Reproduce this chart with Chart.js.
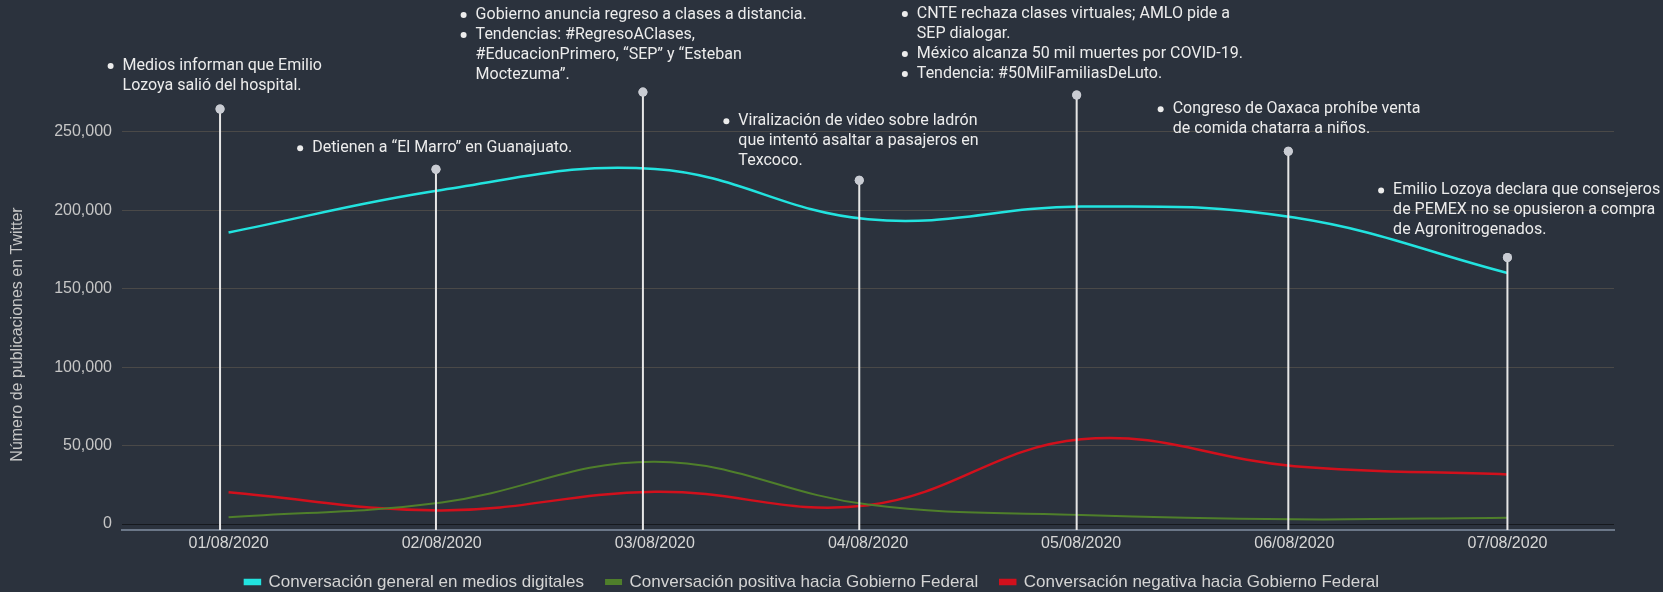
<!DOCTYPE html>
<html>
<head>
<meta charset="utf-8">
<script src="https://cdn.jsdelivr.net/npm/chart.js@4.4.0/dist/chart.umd.min.js"></script>
<style>
  html, body { margin: 0; padding: 0; background: #2b323d; }
  #wrap { width: 1663px; height: 592px; position: relative; }
</style>
</head>
<body>
<div id="wrap"><canvas id="chart"></canvas></div>
<script>
const days = ["01/08/2020", "02/08/2020", "03/08/2020", "04/08/2020", "05/08/2020", "06/08/2020", "07/08/2020"];
const general = [185800, 212900, 226300, 194200, 202300, 195300, 160000];
const positive = [4300, 13800, 39700, 12400, 5700, 3000, 4000];
const negative = [20200, 8700, 20600, 12000, 54000, 36900, 31600];
const yTicks = [0, 50000, 100000, 150000, 200000, 250000];

// events: position on the day axis (fractional index) and marker height
const eventPos = [-0.04, 0.973, 1.944, 2.959, 3.979, 4.972, 6.0];
const eventHeight = [264500, 226100, 275300, 219100, 273400, 237600, 169900];
const eventNotes = [
  [["Medios informan que Emilio", "Lozoya salió del hospital."]],
  [["Detienen a “El Marro” en Guanajuato."]],
  [["Gobierno anuncia regreso a clases a distancia."],
   ["Tendencias: #RegresoAClases,", "#EducacionPrimero, “SEP” y “Esteban", "Moctezuma”."]],
  [["Viralización de video sobre ladrón", "que intentó asaltar a pasajeros en", "Texcoco."]],
  [["CNTE rechaza clases virtuales; AMLO pide a", "SEP dialogar."],
   ["México alcanza 50 mil muertes por COVID-19."],
   ["Tendencia: #50MilFamiliasDeLuto."]],
  [["Congreso de Oaxaca prohíbe venta", "de comida chatarra a niños."]],
  [["Emilio Lozoya declara que consejeros", "de PEMEX no se opusieron a compra", "de Agronitrogenados."]]
];
// where each note block sits relative to its marker (center dx, last line dy)
const noteShift = [[-5, -23], [-1, -21], [-9, -17], [-8, -19], [-4, -21], [1, -22], [12, -27]];

const seriesNames = [
  "Conversación general en medios digitales",
  "Conversación positiva hacia Gobierno Federal",
  "Conversación negativa hacia Gobierno Federal"
];

const eventsPlugin = {
  id: 'events',
  afterLayout(chart) {
    // legend sits a little right of the canvas centre
    chart.legend.left += 5;
    chart.legend.right += 5;
  },
  afterDatasetsDraw(chart) {
    const ctx = chart.ctx;
    const meta = chart.getDatasetMeta(3);
    const bottom = chart.chartArea.bottom;
    ctx.save();
    ctx.strokeStyle = '#e6e6e6';
    ctx.lineWidth = 2;
    meta.data.forEach(p => {
      ctx.beginPath();
      ctx.moveTo(p.x, p.y);
      ctx.lineTo(p.x, bottom);
      ctx.stroke();
    });
    meta.data.forEach(p => p.draw(ctx));
    ctx.restore();
  },
  afterDraw(chart) {
    const ctx = chart.ctx;
    const meta = chart.getDatasetMeta(3);
    ctx.save();
    ctx.font = '16px Roboto';
    ctx.fillStyle = '#ececec';
    ctx.textBaseline = 'middle';
    ctx.textAlign = 'left';
    const lh = 20, indent = 14.5;
    meta.data.forEach((p, i) => {
      const bullets = eventNotes[i];
      let lines = [];
      bullets.forEach(b => b.forEach((t, k) => lines.push({ t, first: k === 0 })));
      const w = indent + Math.max(...lines.map(l => ctx.measureText(l.t).width));
      const left = p.x + noteShift[i][0] - w / 2;
      const lastY = p.y + noteShift[i][1];
      lines.forEach((l, k) => {
        const y = lastY - (lines.length - 1 - k) * lh;
        if (l.first) {
          ctx.beginPath();
          ctx.arc(left + 2.5, y, 3, 0, Math.PI * 2);
          ctx.fill();
        }
        ctx.fillText(l.t, left + indent, y);
      });
    });
    // y axis title
    ctx.translate(17.5, 334.5);
    ctx.rotate(-Math.PI / 2);
    ctx.font = '16px "Liberation Sans"';
    ctx.fillStyle = '#c6c6c6';
    ctx.textAlign = 'center';
    ctx.fillText('Número de publicaciones en Twitter', 0, 0);
    ctx.restore();
  }
};

new Chart(document.getElementById('chart'), {
  type: 'line',
  data: {
    labels: days,
    datasets: [
      { label: seriesNames[0], data: general, borderColor: '#22e3df', backgroundColor: '#22e3df', borderWidth: 2.5 },
      { label: seriesNames[1], data: positive, borderColor: '#4f7f2b', backgroundColor: '#4f7f2b', borderWidth: 2 },
      { label: seriesNames[2], data: negative, borderColor: '#d1101c', backgroundColor: '#d1101c', borderWidth: 2.5 },
      {
        label: 'eventos', xAxisID: 'x2', showLine: false,
        data: eventPos.map((x, i) => ({ x, y: eventHeight[i] })),
        pointRadius: 4.5, pointBackgroundColor: '#c9ccd3', pointBorderWidth: 0
      }
    ]
  },
  options: {
    responsive: true,
    maintainAspectRatio: false,
    animation: false,
    layout: { padding: { top: 69, right: 49, left: 0, bottom: -8.5 } },
    elements: {
      line: { tension: 0.4 },
      point: { radius: 0, hoverRadius: 0 }
    },
    scales: {
      x: {
        offset: true,
        grid: { display: false, drawTicks: false },
        border: { display: true, color: '#6b7788', width: 2 },
        ticks: { color: '#d6d6d6', font: { family: 'Liberation Sans', size: 16 }, padding: 4, maxRotation: 0 },
        afterFit(s) { s.height = 21.5; }
      },
      x2: { type: 'linear', min: -0.5, max: 6.5, display: false },
      y: {
        min: -3800,
        max: 290000,
        border: { display: false },
        grid: {
          drawTicks: false,
          color: c => c.tick && c.tick.value === 0 ? '#16191e' : '#4a4948'
        },
        afterBuildTicks(s) { s.ticks = yTicks.map(v => ({ value: v })); },
        ticks: {
          padding: 10,
          color: '#c6c6c6',
          font: { family: 'Liberation Sans', size: 16 },
          callback: v => v.toLocaleString('en-US')
        },
        afterFit(s) { s.width = 122; }
      }
    },
    plugins: {
      legend: {
        position: 'bottom',
        labels: {
          filter: item => item.datasetIndex < 3,
          color: '#d4d4d4',
          font: { family: 'Liberation Sans', size: 17 },
          boxWidth: 15,
          boxHeight: 4,
          padding: 22
        }
      },
      tooltip: { enabled: false }
    }
  },
  plugins: [eventsPlugin]
});
</script>
</body>
</html>
